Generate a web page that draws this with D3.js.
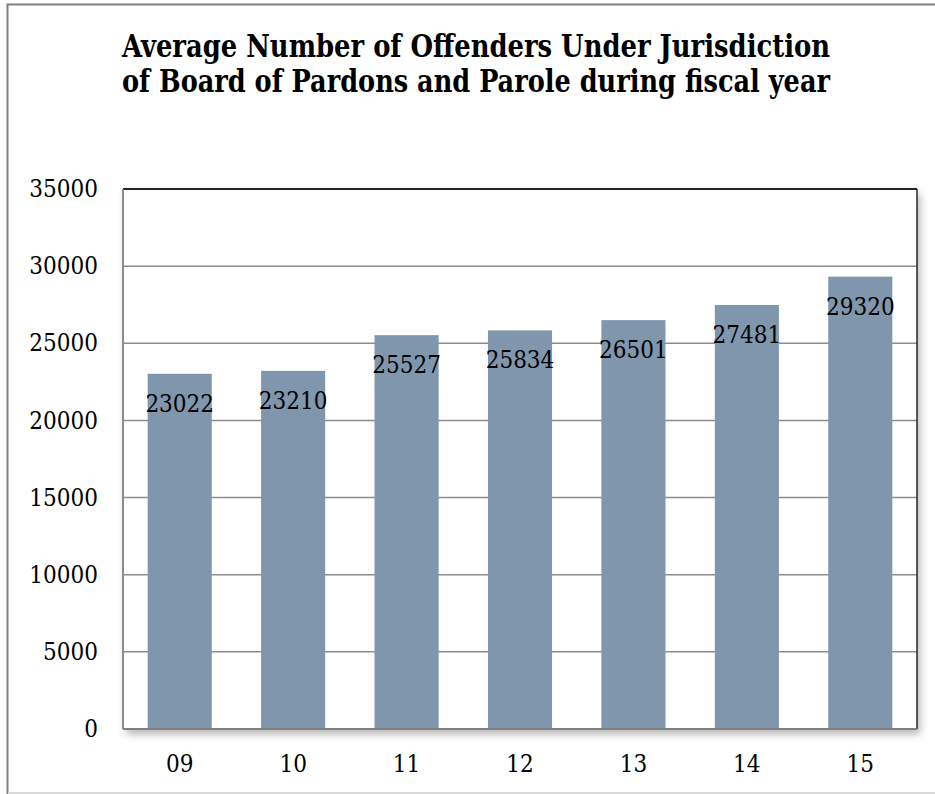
<!DOCTYPE html>
<html>
<head>
<meta charset="utf-8">
<script src="https://cdn.jsdelivr.net/npm/d3@7"></script>
<style>
  body { margin: 0; background: #fff; }
  svg text { font-family: "DejaVu Serif Condensed", "DejaVu Serif", serif; font-stretch: condensed; }
</style>
</head>
<body>
<div id="chart"></div>
<script>
var years = ["09", "10", "11", "12", "13", "14", "15"];
var offenders = [23022, 23210, 25527, 25834, 26501, 27481, 29320];
var yTicks = [0, 5000, 10000, 15000, 20000, 25000, 30000, 35000];
var titleLines = ["Average Number of Offenders Under Jurisdiction",
                  "of Board of Pardons and Parole during fiscal year"];

var width = 935,
	height = 794,
	plot = { left: 123, top: 189, right: 917, bottom: 729 };

var svg = d3.select("#chart")
	.append("svg")
	.attr("width", width)
	.attr("height", height);

// soft shadow under the plot area
var f = svg.append("defs").append("filter").attr("id", "shadow")
	.attr("x", "-5%").attr("y", "-5%").attr("width", "115%").attr("height", "120%");
f.append("feGaussianBlur").attr("in", "SourceAlpha").attr("stdDeviation", 4);
f.append("feOffset").attr("dx", 3).attr("dy", 5).attr("result", "b");
f.append("feComponentTransfer").append("feFuncA").attr("type", "linear").attr("slope", 0.3);
var m = f.append("feMerge");
m.append("feMergeNode");
m.append("feMergeNode").attr("in", "SourceGraphic");

// outer frame
svg.append("rect")
	.attr("x", 7.5).attr("y", 4.5)
	.attr("width", 940).attr("height", 788.5)
	.attr("fill", "none")
	.attr("stroke", "#7f7f7f").attr("stroke-width", 2);
svg.append("line")
	.attr("x1", 8).attr("x2", 935).attr("y1", 793).attr("y2", 793)
	.attr("stroke", "#d9d9d9").attr("stroke-width", 2);

var title = svg.append("text")
	.attr("text-anchor", "middle")
	.style("font-family", "'DejaVu Serif Condensed', 'DejaVu Serif', serif")
	.style("font-weight", "bold")
	.style("font-size", "31px");
title.selectAll("tspan")
	.data(titleLines)
	.enter().append("tspan")
	.attr("x", 476)
	.attr("y", function(d, i) { return 57 + i * 35; })
	.attr("textLength", 708)
	.attr("lengthAdjust", "spacingAndGlyphs")
	.text(function(d) { return d; });

var x = d3.scaleBand()
	.domain(years)
	.range([plot.left, plot.right])
	.paddingInner(0.435)
	.paddingOuter(0.2175);

var y = d3.scaleLinear()
	.domain([0, 35000])
	.range([plot.bottom, plot.top]);

svg.append("rect")
	.attr("x", plot.left).attr("y", plot.top)
	.attr("width", plot.right - plot.left).attr("height", plot.bottom - plot.top)
	.attr("fill", "#fff")
	.attr("filter", "url(#shadow)");

// gridlines
svg.append("g")
	.selectAll("line")
	.data(yTicks.slice(1, -1))
	.enter().append("line")
	.attr("x1", plot.left).attr("x2", plot.right)
	.attr("y1", function(d) { return y(d); })
	.attr("y2", function(d) { return y(d); })
	.attr("stroke", "#8c8c8c").attr("stroke-width", 1.5);

svg.append("g")
	.selectAll("rect")
	.data(offenders)
	.enter().append("rect")
	.attr("x", function(d, i) { return x(years[i]); })
	.attr("y", function(d) { return y(d); })
	.attr("width", x.bandwidth())
	.attr("height", function(d) { return y(0) - y(d); })
	.attr("fill", "#7f96ad");

// plot border
svg.append("line").attr("x1", plot.left).attr("x2", plot.right)
	.attr("y1", plot.top).attr("y2", plot.top)
	.attr("stroke", "#262626").attr("stroke-width", 2);
svg.append("line").attr("x1", plot.left).attr("x2", plot.left)
	.attr("y1", plot.top).attr("y2", plot.bottom)
	.attr("stroke", "#8c8c8c").attr("stroke-width", 2);
svg.append("line").attr("x1", plot.right).attr("x2", plot.right)
	.attr("y1", plot.top).attr("y2", plot.bottom)
	.attr("stroke", "#262626").attr("stroke-width", 1.5);
svg.append("line").attr("x1", plot.left).attr("x2", plot.right)
	.attr("y1", plot.bottom).attr("y2", plot.bottom)
	.attr("stroke", "#7f7f7f").attr("stroke-width", 2);

// value labels
svg.append("g")
	.selectAll("text")
	.data(offenders)
	.enter().append("text")
	.attr("x", function(d, i) { return x(years[i]) + x.bandwidth() / 2; })
	.attr("y", function(d) { return y(d) + 38; })
	.attr("text-anchor", "middle")
	.style("font-size", "24px")
	.style("fill", "#000")
	.text(function(d) { return d; });

var yAxis = svg.append("g")
	.attr("transform", "translate(" + (plot.left - 25) + ",0)")
	.call(d3.axisLeft(y).tickValues(yTicks).tickSize(0).tickPadding(0).tickFormat(d3.format("d")));
yAxis.select(".domain").remove();
yAxis.selectAll("text").style("font-size", "24px").style("fill", "#000");

var xAxis = svg.append("g")
	.attr("transform", "translate(0," + plot.bottom + ")")
	.call(d3.axisBottom(x).tickSize(0).tickPadding(26));
xAxis.select(".domain").remove();
xAxis.selectAll("text").style("font-size", "24px").style("fill", "#000");
</script>
</body>
</html>
